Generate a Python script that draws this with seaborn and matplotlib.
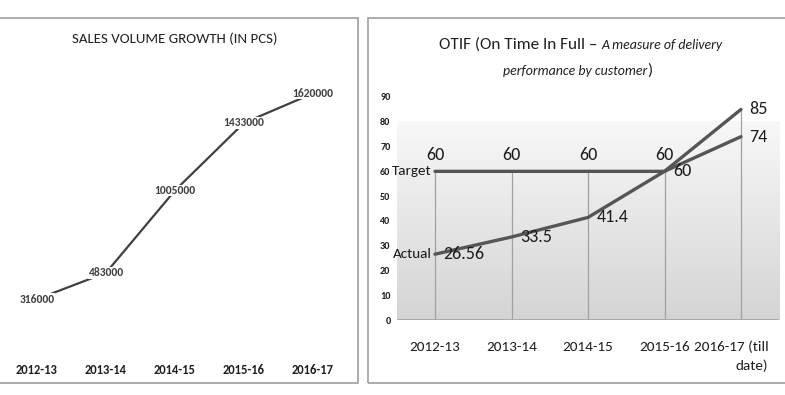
import numpy as np
import pandas as pd
import seaborn as sns
import matplotlib.pyplot as plt
from matplotlib.patches import Rectangle
from matplotlib.colors import LinearSegmentedColormap
from matplotlib.transforms import ScaledTranslation

## data
sales_years = ["2012-13", "2013-14", "2014-15", "2015-16", "2016-17"]
sales_pcs = [316000, 483000, 1005000, 1433000, 1620000]

otif_years = ["2012-13", "2013-14", "2014-15", "2015-16", "2016-17 (till\ndate)"]
otif_target = [60, 60, 60, 60, 74]
otif_actual = [26.56, 33.5, 41.4, 60, 85]

sns.set_theme(style="white")
plt.rcParams["font.family"] = ["Carlito", "Lato", "DejaVu Sans"]

W, H = 785, 395
fig = plt.figure(figsize=(7.85, 3.95), dpi=100)
fig.patch.set_facecolor("white")


def px_box(x0, y0, x1, y1):
    # pixel box (from top-left) -> figure fraction rect
    return [x0 / W, 1 - y1 / H, (x1 - x0) / W, (y1 - y0) / H]


## panel frames
for x0, x1 in [(-5, 358), (368, 790)]:
    fig.add_artist(Rectangle((x0 / W, 1 - 383 / H), (x1 - x0) / W, 365 / H,
                             transform=fig.transFigure, fill=False,
                             ec="#a6a6a6", lw=1.3))

## left chart: sales volume
ax1 = fig.add_axes(px_box(2.5, 65, 347.5, 349))
df1 = pd.DataFrame({"year": sales_years, "pcs": sales_pcs})
sns.lineplot(data=df1, x="year", y="pcs", ax=ax1, color="#404040", lw=1.6, sort=False)
for i, v in enumerate(sales_pcs):
    ax1.text(i, v, f"{v}", ha="center", va="center", fontsize=8.3, weight="bold",
             color="#404040", bbox=dict(fc="white", ec="none", pad=0.2))
ax1.set_xlim(-0.5, 4.5)
ax1.set_ylim(0, 1800000)
ax1.set_yticks([])
ax1.set_xlabel("")
ax1.set_ylabel("")
for s in ax1.spines.values():
    s.set_visible(False)
ax1.tick_params(axis="x", length=0, pad=11, labelsize=9, labelcolor="#1f1f1f")
for lab in ax1.get_xticklabels():
    lab.set_fontweight("bold")
ax1.patch.set_alpha(0)
fig.text(175 / W, 1 - 39 / H, "SALES VOLUME GROWTH (IN PCS)", ha="center", va="center",
         fontsize=10.7, color="#1f1f1f")

## right chart: OTIF
ax2 = fig.add_axes(px_box(396.75, 97, 779.25, 320))
df2 = pd.DataFrame({
    "year": otif_years * 2,
    "value": otif_target + otif_actual,
    "series": ["Target"] * 5 + ["Actual"] * 5,
})
sns.lineplot(data=df2, x="year", y="value", hue="series", ax=ax2, sort=False,
             palette={"Target": "#555555", "Actual": "#555555"}, lw=2.4, legend=False, zorder=3)

grad = np.linspace(0, 1, 256).reshape(-1, 1)
cmap = LinearSegmentedColormap.from_list("bg", ["#d4d4d4", "#f8f8f8"])
ax2.imshow(grad, extent=(-0.5, 4.5, 0, 80), origin="lower", aspect="auto", cmap=cmap, zorder=0)

# drop lines
ax2.vlines(otif_years, 0, np.maximum(otif_target, otif_actual), color="#a0a0a0", lw=0.9, zorder=1)
ax2.axhline(0, color="#a6a6a6", lw=1.3, zorder=2)

ax2.set_xlim(-0.5, 4.5)
ax2.set_ylim(0, 90)
ax2.set_yticks(range(0, 91, 10))
ax2.set_xlabel("")
ax2.set_ylabel("")
for s in ax2.spines.values():
    s.set_visible(False)
ax2.tick_params(axis="y", length=0, pad=4.5, labelsize=7.3, labelcolor="#1f1f1f")
ax2.tick_params(axis="x", length=0, pad=15, labelsize=11, labelcolor="#1f1f1f")
for lab in ax2.get_yticklabels():
    lab.set_fontweight("bold")
last = ax2.get_xticklabels()[-1]
last.set_multialignment("right")
last.set_linespacing(1.55)
last.set_transform(last.get_transform() + ScaledTranslation(-0.10, 0, fig.dpi_scale_trans))

# data labels
for i, v in enumerate(otif_target):
    if i < 4:
        ax2.annotate(f"{v:g}", (i, v), xytext=(0, 12), textcoords="offset points",
                     ha="center", va="center", fontsize=13, color="#1a1a1a")
    else:
        ax2.annotate(f"{v:g}", (i, v), xytext=(6, 0), textcoords="offset points",
                     ha="left", va="center", fontsize=13, color="#1a1a1a")
for i, v in enumerate(otif_actual):
    ax2.annotate(f"{v:g}", (i, v), xytext=(6, 0), textcoords="offset points",
                 ha="left", va="center", fontsize=13, color="#1a1a1a")
ax2.annotate("Target", (0, otif_target[0]), xytext=(-2.5, 0), textcoords="offset points",
             ha="right", va="center", fontsize=10.9, color="#1a1a1a", annotation_clip=False)
ax2.annotate("Actual", (0, otif_actual[0]), xytext=(-2.5, 0), textcoords="offset points",
             ha="right", va="center", fontsize=10.9, color="#1a1a1a", annotation_clip=False)


def rich_line(pieces, xc, ybase):
    r = fig.canvas.get_renderer()
    texts = [fig.text(0, 1 - ybase / H, s, ha="left", va="baseline", color="#1f1f1f", **kw)
             for s, kw in pieces]
    widths = [t.get_window_extent(r).width for t in texts]
    x = xc - sum(widths) / 2
    for t, w in zip(texts, widths):
        t.set_x(x / W)
        x += w


rich_line([("OTIF (On Time In Full \u2013 ", dict(fontsize=12.4)),
           ("A measure of delivery", dict(fontsize=10, style="italic"))], 581, 49)
rich_line([("performance by customer", dict(fontsize=10, style="italic")),
           (")", dict(fontsize=12.4))], 578, 75)

fig.savefig("out.png", dpi=100, facecolor="white")
